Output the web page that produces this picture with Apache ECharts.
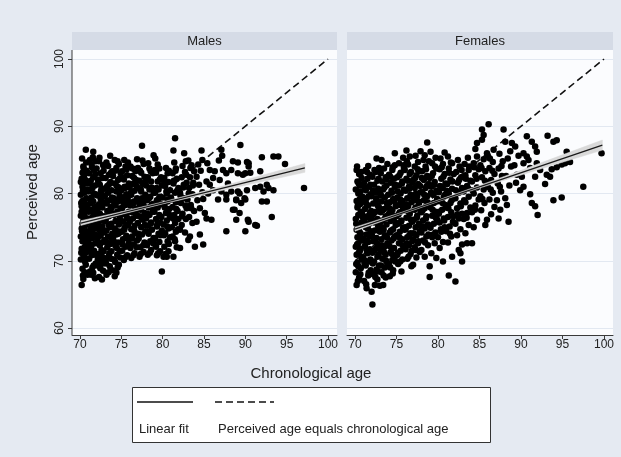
<!DOCTYPE html>
<html>
<head>
<meta charset="utf-8">
<script src="https://cdn.jsdelivr.net/npm/echarts/dist/echarts.min.js"></script>
<style>
  html, body { margin: 0; padding: 0; background: #e5eaf2; }
  #main { width: 621px; height: 457px; }
</style>
</head>
<body>
<div id="main"></div>
<script>
// tick labels
var xTicks = [70, 75, 80, 85, 90, 95, 100];
var yTicks = [60, 70, 80, 90, 100];
var panelNames = ['Males', 'Females'];

// line where perceived age equals chronological age
var diagX = [70, 100];

// linear fits and their confidence bands
var maleFitX = [70.1, 97.2];
var maleFitY = [75.6, 83.8];
var maleBandX = [70.1, 75, 80, 85, 90, 97.2];
var maleBandLo = [75.25, 76.88, 78.45, 79.86, 81.22, 83.15];
var maleBandHi = [75.95, 77.28, 78.75, 80.36, 82.02, 84.45];

var femaleFitX = [70.0, 99.8];
var femaleFitY = [74.7, 87.2];
var femaleBandX = [70.0, 75, 80, 85, 90, 95, 99.8];
var femaleBandLo = [74.4, 76.65, 78.78, 80.8, 82.75, 84.65, 86.45];
var femaleBandHi = [75.0, 76.95, 79.02, 81.2, 83.45, 85.75, 87.95];

// scatter: [chronological age, perceived age]
var malePoints = [
  [70.2,66.4],[70.4,67.3],[70.9,67.9],[70.3,68.8],[70.7,69.4],[70.1,70.2],[70.5,70.6],[70.8,71.3],[70.2,71.8],[70.6,72.1],[70.3,72.9],[70.9,73.3],[70.1,73.6],[70.5,74.1],[70.8,74.4],[70.2,74.8],[70.6,75.2],[70.4,75.9],[70.9,76.3],[70.1,76.7],[70.5,77.0],[70.7,77.6],[70.2,78.1],[70.6,78.4],[70.3,78.9],[70.8,79.3],[70.1,79.8],[70.5,80.1],[70.9,80.6],[70.3,81.0],[70.7,81.5],[70.2,82.2],[70.5,82.7],[70.8,83.4],[70.4,84.0],[70.7,86.5],[70.3,75.5],[70.7,73.8],[70.5,79.0],[70.2,77.3],[70.9,71.8],[70.4,70.9],[70.8,75.7],[70.1,81.7],[70.6,69.9],[70.3,83.1],
  [70.35,67.8],[70.65,70.4],[70.15,71.2],[70.85,72.5],[70.45,73.2],[70.25,74.4],[70.75,76.0],[70.55,76.5],[70.15,78.6],[70.85,78.0],[70.35,80.4],[70.65,82.0],[70.45,83.7],[70.75,84.6],[70.25,85.2],[70.55,68.3],
  [71.6,86.2],[71.8,67.4],[71.2,68.4],[71.5,69.0],[71.9,69.6],[71.1,70.3],[71.4,70.8],[71.7,71.5],[71.3,72.0],[71.9,72.6],[71.0,73.0],[71.5,73.4],[71.8,73.9],[71.2,74.3],[71.6,74.7],[71.4,75.3],[71.9,75.8],[71.1,76.2],[71.5,76.5],[71.7,77.1],[71.3,77.6],[71.8,78.0],[71.2,78.5],[71.6,78.8],[71.4,79.4],[71.9,79.9],[71.0,80.3],[71.5,80.8],[71.8,81.2],[71.3,81.9],[71.6,82.4],[71.1,83.0],[71.7,83.5],[71.4,84.3],[71.2,85.0],[71.9,84.8],[71.5,71.2],[71.8,76.9],[71.3,74.9],[71.6,68.2],
  [71.35,67.9],[71.65,69.3],[71.15,71.8],[71.85,70.9],[71.45,72.4],[71.25,73.7],[71.75,75.0],[71.55,75.7],[71.05,77.3],[71.95,77.8],[71.35,79.0],[71.65,80.0],[71.15,81.5],[71.85,82.9],[71.45,83.9],[71.55,85.4],
  [72.3,67.6],[72.8,68.5],[72.1,69.3],[72.5,69.8],[72.9,70.4],[72.2,71.0],[72.6,71.6],[72.4,72.3],[72.8,72.8],[72.1,73.2],[72.5,73.7],[72.9,74.2],[72.3,74.6],[72.7,75.1],[72.2,75.6],[72.6,76.0],[72.9,76.6],[72.4,77.0],[72.1,77.5],[72.7,77.9],[72.3,78.4],[72.8,78.7],[72.5,79.2],[72.1,79.7],[72.6,80.2],[72.9,80.7],[72.4,81.3],[72.2,81.8],[72.7,82.3],[72.5,83.0],[72.0,83.7],[72.8,84.2],[72.3,84.8],[72.6,70.7],[72.9,76.3],[72.4,73.9],
  [72.45,68.9],[72.75,69.6],[72.15,70.2],[72.85,71.4],[72.35,72.6],[72.65,74.4],[72.05,75.3],[72.95,75.9],[72.45,76.7],[72.25,78.1],[72.75,79.5],[72.55,80.5],[72.15,82.1],[72.85,83.4],[72.35,85.3],[72.65,67.2],
  [73.2,67.9],[73.6,69.2],[73.9,68.6],[73.1,70.1],[73.5,70.7],[73.8,71.4],[73.3,72.0],[73.7,72.5],[73.0,73.1],[73.4,73.6],[73.9,74.0],[73.2,74.5],[73.6,75.0],[73.8,75.5],[73.1,76.1],[73.5,76.6],[73.9,77.0],[73.3,77.4],[73.7,78.0],[73.2,78.5],[73.6,79.0],[73.0,79.6],[73.4,80.1],[73.8,80.5],[73.3,81.1],[73.7,81.7],[73.1,82.3],[73.5,82.8],[73.9,83.3],[73.4,84.1],[73.2,84.6],[73.8,77.8],
  [73.45,68.3],[73.15,69.6],[73.75,70.3],[73.55,71.1],[73.25,72.8],[73.85,73.3],[73.45,75.4],[73.05,75.9],[73.65,76.9],[73.35,78.9],[73.85,79.4],[73.15,80.8],[73.55,81.4],[73.75,83.1],[73.05,84.3],[73.65,85.6],
  [74.2,67.7],[74.4,68.2],[74.7,69.4],[74.1,70.2],[74.5,70.9],[74.8,71.5],[74.3,72.2],[74.6,72.7],[74.0,73.4],[74.4,73.9],[74.9,74.3],[74.2,74.8],[74.7,75.4],[74.3,75.9],[74.8,76.4],[74.1,76.8],[74.5,77.3],[74.9,77.8],[74.3,78.2],[74.6,78.8],[74.1,79.3],[74.8,79.7],[74.4,80.3],[74.7,80.9],[74.2,81.5],[74.6,82.0],[74.0,82.6],[74.9,83.1],[74.4,83.8],[74.7,84.4],[74.2,85.0],
  [74.55,69.0],[74.25,69.8],[74.85,70.5],[74.45,71.9],[74.15,72.8],[74.65,74.0],[74.35,74.5],[74.95,76.0],[74.55,77.0],[74.15,78.5],[74.75,79.1],[74.45,81.1],[74.85,82.3],[74.25,83.4],[74.55,84.8],
  [75.3,70.1],[75.7,70.8],[75.1,71.5],[75.5,72.1],[75.9,72.6],[75.2,73.2],[75.6,73.7],[75.0,74.3],[75.4,74.9],[75.8,75.3],[75.2,75.8],[75.7,76.4],[75.3,76.9],[75.9,77.3],[75.1,77.8],[75.5,78.3],[75.8,78.9],[75.2,79.4],[75.6,79.9],[75.0,80.5],[75.4,81.0],[75.9,81.5],[75.3,82.1],[75.7,82.7],[75.1,83.3],[75.5,84.0],[75.8,84.6],
  [75.45,70.5],[75.15,72.4],[75.75,73.4],[75.35,74.6],[75.95,76.1],[75.55,77.0],[75.25,78.6],[75.85,79.6],[75.45,80.8],[75.15,82.4],[75.65,83.6],[75.35,85.0],
  [76.9,85.1],[76.2,70.4],[76.6,71.1],[76.1,71.9],[76.5,72.4],[76.9,73.0],[76.3,73.6],[76.7,74.1],[76.2,74.7],[76.6,75.2],[76.0,75.8],[76.4,76.3],[76.8,76.7],[76.3,77.2],[76.7,77.7],[76.1,78.2],[76.5,78.8],[76.9,79.3],[76.2,79.8],[76.6,80.4],[76.0,80.9],[76.4,81.4],[76.8,82.0],[76.3,82.6],[76.7,83.3],[76.1,84.0],
  [76.45,70.8],[76.85,72.0],[76.25,73.3],[76.55,74.5],[76.05,76.0],[76.75,77.0],[76.45,78.5],[76.15,80.1],[76.85,81.1],[76.55,82.3],[76.35,83.7],
  [77.5,87.1],[77.2,70.6],[77.7,71.3],[77.3,72.0],[77.8,72.7],[77.1,73.3],[77.5,73.9],[77.9,74.4],[77.4,75.0],[77.0,75.6],[77.6,76.1],[77.2,76.6],[77.8,77.1],[77.3,77.6],[77.7,78.2],[77.1,78.7],[77.5,79.3],[77.9,79.8],[77.4,80.3],[77.0,80.8],[77.6,81.4],[77.2,81.9],[77.8,82.5],[77.4,83.1],[77.0,83.8],[77.7,84.4],
  [77.35,71.0],[77.65,72.3],[77.05,74.0],[77.85,75.3],[77.45,76.4],[77.15,77.9],[77.65,79.0],[77.35,80.6],[77.85,81.7],[77.25,83.4],[77.55,84.9],
  [78.9,85.7],[79.1,85.2],[78.2,70.9],[78.6,71.6],[78.1,72.3],[78.5,72.9],[78.9,73.4],[78.3,74.0],[78.7,74.6],[78.2,75.2],[78.6,75.7],[78.0,76.3],[78.4,76.8],[78.8,77.3],[78.3,77.9],[78.7,78.4],[78.1,79.0],[78.5,79.5],[78.9,80.1],[78.4,80.6],[78.0,81.2],[78.6,81.8],[78.2,82.4],[78.8,83.0],[78.4,83.7],
  [78.45,71.2],[78.85,72.6],[78.25,74.3],[78.55,75.5],[78.15,77.0],[78.75,78.0],[78.35,79.3],[78.65,80.9],[78.05,82.1],[78.55,83.3],[78.25,84.5],
  [79.9,68.4],[79.3,70.8],[79.7,71.4],[79.2,72.1],[79.6,72.8],[79.1,73.4],[79.5,74.0],[79.9,74.5],[79.3,75.1],[79.7,75.7],[79.2,76.2],[79.6,76.8],[79.0,77.3],[79.4,77.9],[79.8,78.4],[79.3,79.0],[79.7,79.5],[79.1,80.1],[79.5,80.6],[79.9,81.2],[79.4,81.8],[79.8,82.4],[79.2,83.1],[79.6,83.7],[79.4,84.3],
  [79.45,71.1],[79.05,72.5],[79.75,73.8],[79.35,75.4],[79.85,76.5],[79.15,78.2],[79.55,79.3],[79.25,80.8],[79.65,82.1],[79.05,83.5],
  [80.1,70.6],[80.5,70.6],[80.7,71.4],[80.2,72.1],[80.6,72.9],[80.9,73.5],[80.3,74.1],[80.7,74.8],[80.1,75.4],[80.5,76.0],[80.9,76.5],[80.4,77.1],[80.8,77.7],[80.2,78.3],[80.6,78.8],[80.0,79.4],[80.5,80.0],[80.9,80.5],[80.3,81.1],[80.7,81.7],[80.2,82.3],[80.6,83.0],[80.4,83.8],
  [80.35,71.0],[80.75,72.5],[80.15,73.8],[80.55,75.1],[80.85,76.8],[80.25,77.9],[80.65,79.1],[80.45,80.3],[80.15,81.9],[80.75,83.4],
  [81.5,88.2],[81.3,86.4],[81.3,70.6],[81.5,72.9],[81.7,72.0],[81.2,73.6],[81.6,74.3],[81.1,75.0],[81.5,75.6],[81.9,76.2],[81.4,76.8],[81.8,77.4],[81.2,78.0],[81.6,78.7],[81.0,79.4],[81.5,80.1],[81.9,80.8],[81.3,81.5],[81.7,82.2],[81.2,83.0],[81.6,83.7],[81.4,84.6],
  [81.45,73.2],[81.85,74.7],[81.25,76.3],[81.65,77.7],[81.05,79.1],[81.75,80.4],[81.35,81.9],[81.55,83.4],
  [82.6,86.0],[82.1,71.9],[82.1,74.6],[82.7,74.2],[82.3,75.3],[82.8,76.2],[82.4,77.0],[82.9,77.8],[82.2,78.6],[82.6,79.3],[82.1,80.1],[82.5,80.9],[82.9,81.6],[82.3,82.4],[82.7,83.2],[82.4,84.1],[82.8,84.8],
  [82.35,76.6],[82.75,78.2],[82.15,79.7],[82.55,81.3],[82.85,82.8],
  [83.3,73.6],[83.1,73.1],[83.6,75.6],[83.2,76.5],[83.8,77.4],[83.4,78.3],[83.0,79.1],[83.6,79.9],[83.2,80.8],[83.7,81.6],[83.3,82.4],[83.8,83.3],[83.5,84.2],[83.1,84.9],[83.9,72.1],
  [83.45,77.8],[83.15,80.0],[83.65,81.2],[83.35,83.8],
  [84.7,86.4],[84.1,75.8],[84.5,73.9],[84.9,72.4],[84.9,79.2],[84.5,77.8],[84.2,79.0],[84.8,80.2],[84.4,81.3],[84.1,82.5],[84.6,83.4],[84.3,84.3],[84.8,85.0],
  [85.3,76.3],[85.9,76.1],[85.1,77.1],[85.7,83.5],[85.3,81.8],[85.7,81.3],[85.5,80.0],[85.4,84.5],
  [86.3,83.3],[86.1,82.3],[86.8,84.9],[86.9,82.0],[86.7,79.1],[86.1,80.5],[87.2,85.6],[87.1,86.5],
  [87.3,83.5],[87.7,83.0],[87.1,80.3],[87.7,79.8],[87.7,74.4],[87.7,79.1],[87.9,81.5],
  [88.3,83.5],[88.5,84.8],[88.3,80.3],[88.9,79.1],[88.5,77.6],[88.9,76.1],[88.9,79.0],[88.7,77.6],
  [89.1,84.6],[89.1,83.0],[89.7,82.8],[89.1,80.3],[89.3,80.0],[89.9,79.3],[89.5,78.6],[89.3,77.1],[89.4,87.2],[90.0,79.1],[90.0,74.4],[90.0,83.0],
  [90.2,84.7],[90.4,84.0],[90.4,84.5],[90.6,83.1],[90.2,80.5],[90.4,75.8],[90.3,76.1],
  [91.2,80.8],[91.8,81.0],[91.8,83.3],[91.2,75.3],[91.4,75.2],
  [92.0,85.4],[92.2,80.3],[92.6,78.8],[92.0,78.8],[92.8,80.8],[92.6,81.3],
  [93.2,76.5],[93.4,80.5],[93.4,85.5],[94.0,85.5],[94.8,84.4],[97.1,80.8]
];

var femalePoints = [
  [70.2,66.4],[70.5,67.5],[70.1,68.3],[70.7,68.9],[70.3,69.7],[70.8,70.2],[70.2,70.9],[70.6,71.5],[70.1,72.1],[70.4,72.6],[70.9,73.0],[70.3,73.5],[70.7,74.0],[70.2,74.6],[70.5,75.2],[70.8,75.7],[70.1,76.2],[70.4,76.8],[70.7,77.3],[70.3,77.9],[70.6,78.4],[70.2,78.9],[70.9,79.5],[70.4,80.0],[70.1,80.6],[70.6,81.2],[70.3,81.8],[70.8,82.3],[70.5,82.9],[70.2,83.5],[70.7,71.8],[70.4,69.2],[70.9,76.5],[70.6,79.2],
  [70.35,67.0],[70.65,68.0],[70.15,69.5],[70.85,70.6],[70.45,71.2],[70.25,72.4],[70.75,73.3],[70.55,74.3],[70.15,75.5],[70.85,77.0],[70.35,78.2],[70.65,80.3],[70.45,81.5],[70.75,83.2],[70.25,84.0],
  [71.4,65.9],[71.1,67.0],[71.6,67.8],[71.9,68.6],[71.3,69.3],[71.7,69.9],[71.0,70.5],[71.5,71.1],[71.8,71.7],[71.2,72.2],[71.6,72.8],[71.0,73.3],[71.4,73.9],[71.9,74.4],[71.3,75.0],[71.7,75.5],[71.1,76.0],[71.5,76.6],[71.8,77.1],[71.2,77.7],[71.6,78.2],[71.0,78.8],[71.4,79.3],[71.9,79.9],[71.3,80.5],[71.7,81.0],[71.1,81.6],[71.5,82.2],[71.8,82.8],[71.3,83.5],[71.6,84.1],[71.2,70.0],[71.8,76.3],
  [71.35,66.5],[71.65,68.2],[71.15,69.6],[71.85,70.2],[71.45,71.5],[71.25,73.0],[71.75,73.6],[71.55,74.8],[71.05,75.8],[71.95,77.4],[71.35,78.5],[71.65,79.6],[71.15,80.9],[71.85,81.3],[71.45,83.2],
  [72.1,63.5],[72.0,65.4],[72.4,66.4],[72.7,67.2],[72.2,68.0],[72.6,68.7],[72.9,69.3],[72.3,69.9],[72.7,70.6],[72.1,71.2],[72.5,71.8],[72.9,72.3],[72.2,72.9],[72.6,73.4],[72.0,74.0],[72.4,74.5],[72.8,75.1],[72.3,75.7],[72.7,76.2],[72.1,76.8],[72.5,77.3],[72.9,77.9],[72.2,78.5],[72.6,79.0],[72.0,79.6],[72.4,80.2],[72.8,80.7],[72.3,81.3],[72.7,81.9],[72.1,82.5],[72.5,83.2],[72.9,83.8],[72.6,85.2],
  [72.45,67.6],[72.75,68.4],[72.15,69.6],[72.85,70.9],[72.35,71.5],[72.65,72.6],[72.05,73.7],[72.95,74.8],[72.45,76.0],[72.25,77.0],[72.75,78.2],[72.55,79.3],[72.15,80.4],[72.85,82.2],[72.35,83.5],
  [73.0,66.3],[73.4,66.4],[73.7,67.5],[73.2,68.3],[73.6,69.0],[73.9,69.6],[73.3,70.3],[73.7,70.9],[73.1,71.5],[73.5,72.0],[73.9,72.6],[73.2,73.2],[73.6,73.8],[73.0,74.3],[73.4,74.9],[73.8,75.4],[73.3,76.0],[73.7,76.6],[73.1,77.2],[73.5,77.7],[73.9,78.3],[73.2,78.8],[73.6,79.4],[73.0,80.0],[73.4,80.6],[73.8,81.2],[73.3,81.8],[73.7,82.4],[73.1,83.0],[73.5,83.7],[73.9,84.4],[73.2,85.0],
  [73.45,67.8],[73.15,69.3],[73.75,70.0],[73.55,71.2],[73.25,72.3],[73.85,73.5],[73.45,74.6],[73.05,75.7],[73.65,76.3],[73.35,77.5],[73.85,78.6],[73.15,79.7],[73.55,80.9],[73.75,82.1],[73.05,83.4],
  [74.2,67.7],[74.6,68.6],[74.1,69.4],[74.5,70.1],[74.9,70.7],[74.3,71.3],[74.7,71.9],[74.0,72.5],[74.4,73.0],[74.8,73.6],[74.2,74.2],[74.6,74.7],[74.9,75.3],[74.3,75.9],[74.7,76.4],[74.1,77.0],[74.5,77.5],[74.9,78.1],[74.2,78.7],[74.6,79.2],[74.0,79.8],[74.4,80.4],[74.8,81.0],[74.3,81.6],[74.7,82.2],[74.1,82.8],[74.5,83.5],[74.8,84.2],[74.8,86.0],
  [74.55,68.1],[74.25,69.0],[74.85,69.9],[74.45,71.0],[74.15,72.2],[74.65,73.3],[74.35,74.5],[74.95,75.6],[74.55,76.7],[74.15,77.8],[74.75,78.9],[74.45,80.1],[74.85,81.3],[74.25,82.5],[74.55,83.9],
  [75.6,68.4],[75.2,69.5],[75.7,70.2],[75.1,70.9],[75.5,71.5],[75.9,72.0],[75.3,72.6],[75.7,73.2],[75.0,73.8],[75.4,74.3],[75.8,74.9],[75.2,75.5],[75.6,76.0],[75.0,76.6],[75.4,77.2],[75.8,77.7],[75.3,78.3],[75.7,78.9],[75.1,79.4],[75.5,80.0],[75.9,80.6],[75.3,81.2],[75.7,81.8],[75.1,82.4],[75.5,83.1],[75.9,83.8],[75.3,84.5],[75.8,85.3],
  [75.45,69.9],[75.15,71.2],[75.75,72.3],[75.35,73.5],[75.95,74.6],[75.55,75.8],[75.25,76.9],[75.85,78.0],[75.45,79.1],[75.15,80.3],[75.65,81.5],[75.35,82.7],[75.85,84.2],
  [76.2,86.4],[76.6,85.5],[76.8,69.2],[76.3,70.3],[76.7,71.0],[76.1,71.7],[76.5,72.3],[76.9,72.9],[76.3,73.5],[76.7,74.1],[76.1,74.7],[76.5,75.2],[76.9,75.8],[76.2,76.4],[76.6,77.0],[76.0,77.5],[76.4,78.1],[76.8,78.7],[76.3,79.3],[76.7,79.8],[76.1,80.4],[76.5,81.0],[76.9,81.6],[76.2,82.2],[76.6,82.9],[76.0,83.5],[76.4,84.3],
  [76.45,70.6],[76.85,71.5],[76.25,72.6],[76.55,73.8],[76.05,75.0],[76.75,76.1],[76.45,77.3],[76.15,78.4],[76.85,79.5],[76.55,80.7],[76.35,81.9],[76.75,83.2],[76.25,84.8],
  [77.0,69.4],[77.4,70.5],[77.8,71.3],[77.2,72.0],[77.6,72.6],[77.0,73.2],[77.4,73.8],[77.8,74.4],[77.3,75.0],[77.7,75.5],[77.1,76.1],[77.5,76.7],[77.9,77.3],[77.3,77.9],[77.7,78.4],[77.1,79.0],[77.5,79.6],[77.9,80.2],[77.2,80.8],[77.6,81.4],[77.0,82.0],[77.4,82.7],[77.8,83.3],[77.2,84.0],[77.6,84.7],[77.3,85.6],[77.9,86.3],
  [77.35,71.6],[77.65,72.9],[77.05,74.1],[77.85,75.2],[77.45,76.4],[77.15,77.6],[77.65,78.8],[77.35,80.0],[77.85,81.1],[77.25,82.3],[77.55,83.6],
  [78.7,87.6],[78.0,71.6],[78.4,70.6],[78.8,72.3],[78.2,73.0],[78.6,73.6],[78.0,74.2],[78.4,74.8],[78.8,75.4],[78.2,76.0],[78.6,76.6],[78.0,77.2],[78.4,77.8],[78.8,78.4],[78.3,79.0],[78.7,79.6],[78.1,80.2],[78.5,80.8],[78.9,81.4],[78.3,82.0],[78.7,82.6],[78.1,83.3],[78.5,84.0],[78.9,84.8],[78.4,85.7],
  [78.45,72.7],[78.85,73.9],[78.25,75.1],[78.55,76.3],[78.15,77.5],[78.75,78.7],[78.35,79.8],[78.65,81.1],[78.05,82.3],[78.55,83.6],[78.25,85.0],
  [79.0,67.6],[79.0,69.2],[79.8,70.4],[79.2,71.1],[79.6,72.6],[79.3,73.5],[79.7,74.2],[79.1,74.9],[79.5,75.5],[79.9,76.1],[79.3,76.7],[79.7,77.3],[79.1,77.9],[79.5,78.6],[79.9,79.2],[79.4,79.8],[79.8,80.4],[79.2,81.0],[79.6,81.7],[79.0,82.3],[79.4,83.0],[79.8,83.7],[79.3,84.5],[79.7,85.3],[79.1,86.2],
  [79.45,73.9],[79.05,75.2],[79.75,76.4],[79.35,77.6],[79.85,78.8],[79.15,80.1],[79.55,81.3],[79.25,82.6],[79.65,84.0],
  [80.6,69.9],[80.2,71.9],[80.6,72.8],[80.0,73.5],[80.4,74.3],[80.8,75.0],[80.2,75.7],[80.7,76.3],[80.1,77.0],[80.5,77.6],[80.9,78.3],[80.3,78.9],[80.7,79.5],[80.1,80.2],[80.5,80.8],[80.9,81.5],[80.4,82.2],[80.8,82.9],[80.2,83.6],[80.6,84.4],[80.3,85.2],[80.8,86.1],
  [80.35,74.7],[80.75,76.0],[80.15,77.3],[80.55,78.6],[80.85,79.8],[80.25,81.1],[80.65,82.5],[80.45,83.9],
  [81.3,67.8],[81.7,70.6],[81.2,72.7],[81.6,73.6],[81.0,74.4],[81.4,75.1],[81.8,75.8],[81.2,76.5],[81.6,77.2],[81.0,77.9],[81.5,78.6],[81.9,79.3],[81.3,80.0],[81.7,80.7],[81.1,81.4],[81.5,82.1],[81.9,82.9],[81.3,83.7],[81.7,84.5],[81.2,85.5],
  [81.45,74.0],[81.85,76.6],[81.25,77.8],[81.65,79.0],[81.05,80.4],[81.75,81.8],[81.35,83.1],[81.55,84.6],
  [82.1,66.9],[82.9,69.9],[82.7,71.1],[82.5,71.6],[82.9,72.4],[82.3,73.8],[82.7,74.7],[82.1,75.5],[82.5,76.3],[82.9,77.0],[82.3,77.8],[82.7,78.5],[82.1,79.3],[82.5,80.1],[82.9,80.8],[82.4,81.6],[82.8,82.4],[82.2,83.2],[82.6,84.0],[82.4,85.0],
  [82.35,76.9],[82.75,78.1],[82.15,80.5],[82.55,82.0],[82.85,83.5],
  [83.5,72.6],[83.3,74.1],[83.7,75.3],[83.1,76.2],[83.5,77.1],[83.9,77.9],[83.3,78.7],[83.7,79.5],[83.1,80.3],[83.5,81.1],[83.9,81.9],[83.3,82.7],[83.7,83.5],[83.2,84.4],[83.6,85.3],
  [83.45,76.4],[83.15,79.0],[83.65,80.7],[83.35,82.2],[83.75,84.0],
  [84.1,72.6],[84.7,87.5],[84.5,86.6],[84.3,75.0],[84.7,76.1],[84.1,77.2],[84.5,78.2],[84.9,79.1],[84.3,80.0],[84.7,80.9],[84.1,81.8],[84.5,82.7],[84.9,83.6],[84.3,84.5],[84.7,85.5],
  [84.45,77.6],[84.15,80.5],[84.65,82.2],[84.35,83.9],
  [85.3,89.5],[85.5,88.7],[85.3,88.0],[85.7,75.3],[85.9,76.1],[85.2,77.5],[85.6,78.6],[85.1,79.6],[85.5,80.6],[85.9,81.5],[85.3,82.4],[85.7,83.3],[85.1,84.2],[85.5,85.1],[85.9,86.0],
  [85.35,79.2],[85.65,81.9],[85.25,83.8],
  [86.1,90.3],[86.4,76.9],[86.8,78.0],[86.2,79.1],[86.6,80.1],[86.0,81.0],[86.4,82.0],[86.8,82.9],[86.2,83.8],[86.6,84.7],[86.0,85.6],[86.7,86.5],
  [86.35,80.6],[86.55,83.4],[86.25,85.2],
  [87.9,89.5],[87.3,76.3],[87.5,77.6],[87.1,79.0],[87.6,80.3],[87.2,81.5],[87.7,82.6],[87.3,83.7],[87.8,84.8],[87.4,85.9],
  [87.45,81.0],[87.65,84.1],
  [88.5,75.8],[88.3,78.3],[88.1,79.3],[88.1,87.7],[88.9,87.5],[88.6,81.2],[88.2,82.6],[88.8,84.0],[88.4,85.2],[88.7,86.3],
  [89.3,87.0],[89.5,82.8],[89.9,80.5],[89.2,84.2],[89.7,85.6],[89.4,81.6],
  [90.7,88.5],[90.3,86.0],[90.7,85.5],[90.9,85.0],[90.3,84.5],[90.1,82.5],[90.3,81.0],
  [91.3,87.7],[91.7,87.0],[91.9,86.2],[91.1,79.9],[91.3,78.6],[91.7,78.1],[91.9,84.5],[91.1,83.8],[91.7,82.5],
  [92.0,76.8],[92.3,83.5],[92.9,81.4],
  [93.2,88.6],[93.5,82.5],[93.1,82.8],[93.7,83.6],[93.9,79.0],[93.9,87.7],
  [94.3,87.9],[94.3,83.9],[94.9,84.3],[94.9,79.4],
  [95.3,84.5],[95.9,84.7],[95.5,86.2],[97.5,81.0],[99.7,86.0]
];

var FONT = '"Liberation Sans", Arial, sans-serif';

function pairs(xs, ys) {
  return xs.map(function (x, i) { return [x, ys[i]]; });
}
function band(xs, lo, hi) {
  return xs.map(function (x, i) { return [x, lo[i], hi[i]]; });
}

// confidence band drawn as polygons between consecutive band points
function bandSeries(idx, data) {
  return {
    type: 'custom',
    xAxisIndex: idx, yAxisIndex: idx,
    z: 4,
    silent: true,
    data: data,
    encode: { x: 0, y: [1, 2] },
    renderItem: function (params, api) {
      var i = params.dataIndex;
      if (i >= data.length - 1) return null;
      var a = data[i], b = data[i + 1];
      var pts = [
        api.coord([a[0], a[1]]), api.coord([b[0], b[1]]),
        api.coord([b[0], b[2]]), api.coord([a[0], a[2]])
      ];
      return {
        type: 'polygon',
        shape: { points: pts },
        style: { fill: '#d9d9d9', stroke: '#d9d9d9', lineWidth: 0.5 }
      };
    }
  };
}

var grids = [
  { left: 72, top: 59, width: 265, height: 269 },
  { left: 347, top: 59, width: 266, height: 269 }
];

function xAxisFor(idx) {
  return {
    type: 'value', gridIndex: idx,
    min: idx === 0 ? 69.03 : 69.04,
    max: idx === 0 ? 101.09 : 101.08,
    offset: 7,
    axisLine: { show: true, lineStyle: { color: '#3a3a3a', width: 1 } },
    axisTick: { show: true, length: 4, customValues: xTicks, lineStyle: { color: '#3a3a3a' } },
    axisLabel: { customValues: xTicks, margin: 4, color: '#222', fontSize: 12, fontFamily: FONT },
    splitLine: { show: false }
  };
}
function yAxisFor(idx) {
  return {
    type: 'value', gridIndex: idx,
    min: yTicks[0], max: yTicks[yTicks.length - 1], interval: 10,
    axisLine: { show: false },
    axisTick: { show: idx === 0, length: 4, lineStyle: { color: '#3a3a3a' } },
    axisLabel: { show: idx === 0, rotate: 90, margin: 6, color: '#222', fontSize: 12, fontFamily: FONT },
    splitLine: { show: true, lineStyle: { color: '#e2e8f1', width: 1 } }
  };
}

function panelSeries(idx, points, fitX, fitY, bx, lo, hi) {
  return [
    {
      type: 'line', xAxisIndex: idx, yAxisIndex: idx, z: 2,
      data: pairs(diagX, diagX), symbol: 'none', silent: true,
      lineStyle: { color: '#111', width: 1.6, type: [7, 4] }
    },
    {
      type: 'scatter', xAxisIndex: idx, yAxisIndex: idx, z: 3,
      data: points, symbolSize: 6.5, silent: true,
      itemStyle: { color: '#000', opacity: 1 }
    },
    bandSeries(idx, band(bx, lo, hi)),
    {
      type: 'line', xAxisIndex: idx, yAxisIndex: idx, z: 5,
      data: pairs(fitX, fitY), symbol: 'none', silent: true,
      lineStyle: { color: '#1a1a1a', width: 1.3 }
    }
  ];
}

var graphics = [];
[[72, 265], [347, 266]].forEach(function (p, i) {
  graphics.push({ type: 'rect', z: -10, shape: { x: p[0], y: 32, width: p[1], height: 18 }, style: { fill: '#d5dbe6' } });
  graphics.push({ type: 'rect', z: -10, shape: { x: p[0], y: 50, width: p[1], height: 285 }, style: { fill: '#fbfcfe' } });
  graphics.push({ type: 'text', z: 10, x: p[0] + p[1] / 2, y: 41,
    style: { text: panelNames[i], fill: '#222', font: '13px ' + FONT, align: 'center', verticalAlign: 'middle' } });
});
// left axis line across the whole panel
graphics.push({ type: 'line', z: 10, shape: { x1: 72, y1: 50, x2: 72, y2: 335 }, style: { stroke: '#3a3a3a', lineWidth: 1 } });
// axis titles
graphics.push({ type: 'text', z: 10, x: 311, y: 374,
  style: { text: 'Chronological age', fill: '#222', font: '15px ' + FONT, align: 'center', verticalAlign: 'middle' } });
graphics.push({ type: 'text', z: 10, x: 33, y: 192, rotation: Math.PI / 2,
  style: { text: 'Perceived age', fill: '#222', font: '15px ' + FONT, align: 'center', verticalAlign: 'middle' } });
// legend
graphics.push({ type: 'rect', z: 10, shape: { x: 132.5, y: 387.5, width: 358, height: 55 }, style: { fill: '#fff', stroke: '#333', lineWidth: 1 } });
graphics.push({ type: 'line', z: 11, shape: { x1: 137, y1: 402, x2: 193, y2: 402 }, style: { stroke: '#111', lineWidth: 1.5 } });
graphics.push({ type: 'line', z: 11, shape: { x1: 215, y1: 402, x2: 274, y2: 402 }, style: { stroke: '#111', lineWidth: 1.5, lineDash: [7, 4] } });
graphics.push({ type: 'text', z: 11, x: 139, y: 429,
  style: { text: 'Linear fit', fill: '#222', font: '13px ' + FONT, align: 'left', verticalAlign: 'middle' } });
graphics.push({ type: 'text', z: 11, x: 218, y: 429,
  style: { text: 'Perceived age equals chronological age', fill: '#222', font: '13px ' + FONT, align: 'left', verticalAlign: 'middle' } });

var chart = echarts.init(document.getElementById('main'));
chart.setOption({
  animation: false,
  backgroundColor: '#e5eaf2',
  grid: grids,
  xAxis: [xAxisFor(0), xAxisFor(1)],
  yAxis: [yAxisFor(0), yAxisFor(1)],
  graphic: { elements: graphics },
  series: panelSeries(0, malePoints, maleFitX, maleFitY, maleBandX, maleBandLo, maleBandHi)
    .concat(panelSeries(1, femalePoints, femaleFitX, femaleFitY, femaleBandX, femaleBandLo, femaleBandHi))
});
</script>
</body>
</html>
